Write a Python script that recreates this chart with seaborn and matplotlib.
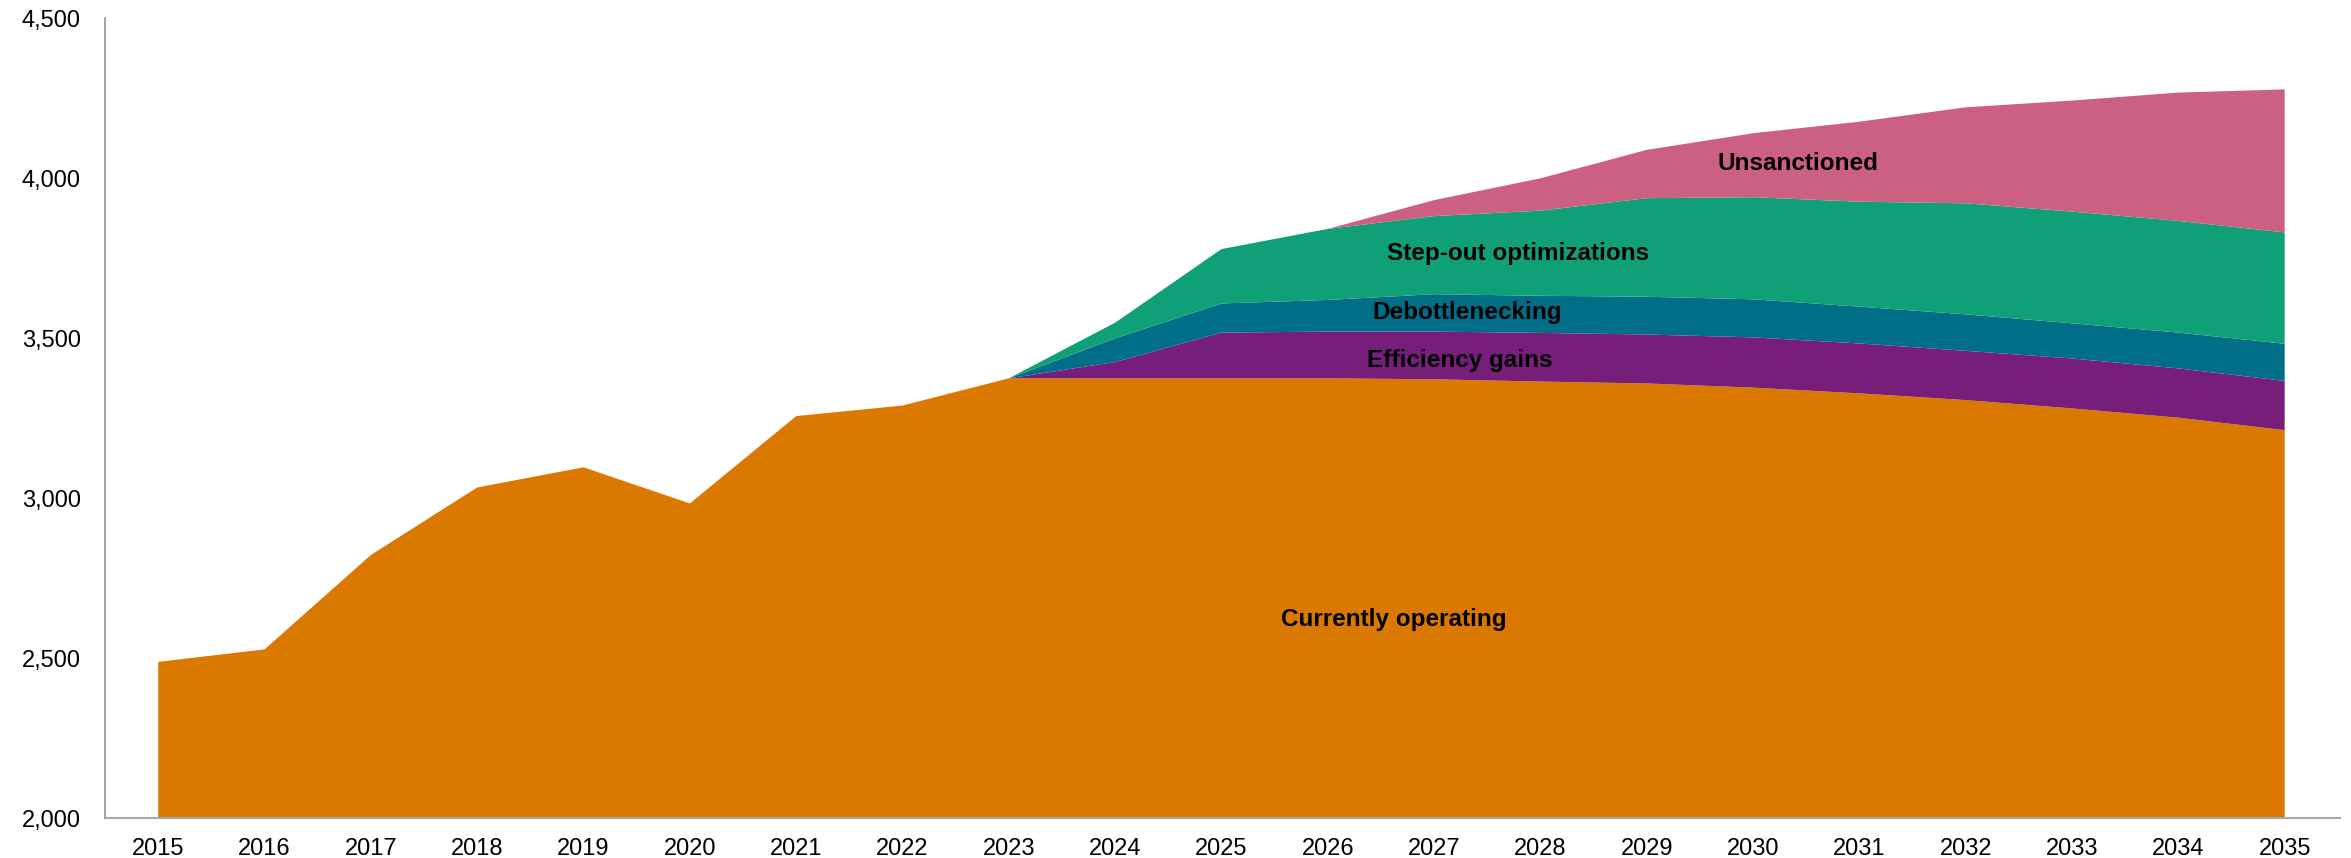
import numpy as np
import pandas as pd
import matplotlib
matplotlib.use("Agg")
import matplotlib.pyplot as plt
from matplotlib.ticker import FuncFormatter
import seaborn as sns

# Capacity outlook by source, 2015-2035
years = list(range(2015, 2036))
currently_operating = [2488, 2527, 2822, 3033, 3096, 2983, 3256, 3289, 3374, 3374, 3374,
                       3374, 3371, 3364, 3358, 3345, 3327, 3306, 3280, 3251, 3212]
efficiency_gains = [0, 0, 0, 0, 0, 0, 0, 0, 0, 51, 143,
                    146, 149, 152, 153, 157, 156, 154, 156, 154, 154]
debottlenecking = [0, 0, 0, 0, 0, 0, 0, 0, 0, 74, 91,
                   99, 117, 116, 118, 119, 115, 114, 110, 112, 116]
step_out = [0, 0, 0, 0, 0, 0, 0, 0, 0, 49, 170,
            222, 244, 266, 308, 319, 328, 347, 349, 349, 348]
unsanctioned = [0, 0, 0, 0, 0, 0, 0, 0, 0, 0, 0,
                0, 50, 101, 151, 200, 250, 300, 347, 401, 447]

series_names = ["Currently operating", "Efficiency gains", "Debottlenecking",
                "Step-out optimizations", "Unsanctioned"]
series_colors = ["#DA7800", "#761E7A", "#006E87", "#10A078", "#CC6082"]

df = pd.DataFrame({
    "year": years,
    series_names[0]: currently_operating,
    series_names[1]: efficiency_gains,
    series_names[2]: debottlenecking,
    series_names[3]: step_out,
    series_names[4]: unsanctioned,
})

sns.set_theme(style="white")
plt.rcParams["font.family"] = ["Liberation Sans", "DejaVu Sans"]
palette = sns.color_palette(series_colors)

fig = plt.figure(figsize=(23.51, 8.58), dpi=100)
ax = fig.add_axes([0.0447, 0.0466, 0.9506, 0.9324])

ax.stackplot(df["year"], [df[n] for n in series_names], colors=palette,
             linewidth=0, edgecolor="none")

# In-area labels
label_pos = {
    "Currently operating": (2026.62, 2620),
    "Efficiency gains": (2027.24, 3431),
    "Debottlenecking": (2027.31, 3581),
    "Step-out optimizations": (2027.79, 3764),
    "Unsanctioned": (2030.42, 4045),
}
for name, (lx, ly) in label_pos.items():
    ax.text(lx, ly, name, ha="center", va="center", fontsize=17.5,
            fontweight="bold", color="black")

ax.set_xlim(2014.5, 2035.52)
ax.set_ylim(2000, 4500)
ax.set_xticks(years)
ax.set_xticklabels([str(y) for y in years])
ax.set_yticks(np.arange(2000, 4501, 500))
ax.yaxis.set_major_formatter(FuncFormatter(lambda v, p: f"{int(v):,}"))
ax.tick_params(axis="both", length=0, labelsize=17, colors="black")
ax.tick_params(axis="y", pad=17.5)
ax.tick_params(axis="x", pad=14.5)

sns.despine(ax=ax, top=True, right=True)
for side in ("left", "bottom"):
    ax.spines[side].set_color("#A6A6A6")
    ax.spines[side].set_linewidth(1.5)
ax.grid(False)
ax.set_xlabel("")
ax.set_ylabel("")

fig.savefig("out.png", dpi=100, facecolor="white")
